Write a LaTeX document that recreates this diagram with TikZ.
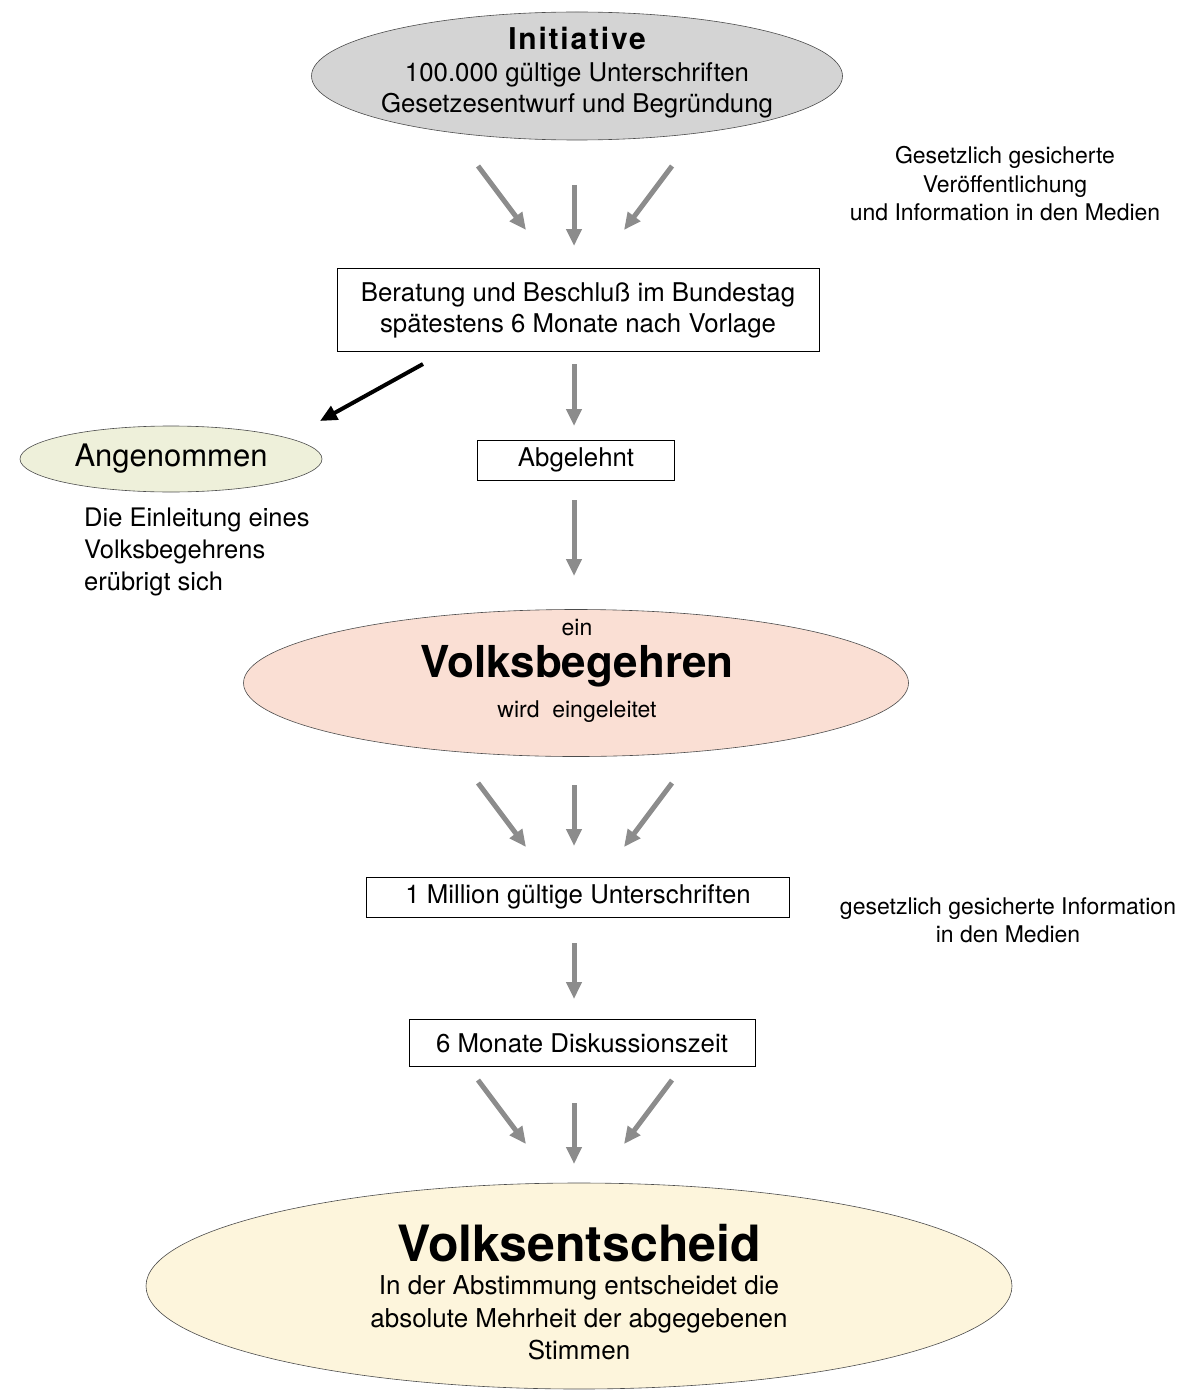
\documentclass[tikz,border=0pt]{standalone}
\usepackage{fontspec}
\setmainfont{TeX Gyre Heros}
\usetikzlibrary{arrows.meta,shapes.geometric}
\definecolor{initgray}{HTML}{D4D4D4}
\definecolor{angfill}{HTML}{EEF0DA}
\definecolor{vbfill}{HTML}{FADFD4}
\definecolor{vefill}{HTML}{FDF5DC}
\definecolor{arrgray}{HTML}{8C8C8C}
\begin{document}
\begin{tikzpicture}[x=1pt,y=-1pt,
  oval/.style={draw=black!70,line width=0.6pt,ellipse,inner sep=0pt},
  boxnode/.style={draw=black,line width=1pt,minimum height=40pt,inner sep=0pt,font=\fontsize{25.8}{31}\selectfont,align=center},
  garrow/.style={draw=arrgray,line width=5pt,-{Triangle[length=17pt,width=15pt]}},
  barrow/.style={draw=black,line width=4pt,-{Triangle[length=17pt,width=15pt]}},
  note/.style={font=\fontsize{23}{28.5}\selectfont,align=center},
  body/.style={font=\fontsize{25.8}{31}\selectfont,align=center}]
\useasboundingbox (0,0) rectangle (1185,1391);
% Initiative
\node[oval,fill=initgray,minimum width=531pt,minimum height=128pt] (init) at (577,76) {};
\node[font=\fontsize{30}{34}\selectfont\addfontfeature{LetterSpace=6}\bfseries] (initt) at (577,38) {Initiative};
\node[body] (initb) at (577,90) {100.000 gültige Unterschriften\\Gesetzesentwurf und Begründung};
% arrows 1
\coordinate (a1s) at (478,166); \coordinate (a1e) at (526,230);
\coordinate (b1s) at (574,185); \coordinate (b1e) at (574,246);
\coordinate (c1s) at (672,166); \coordinate (c1e) at (624,230);
\draw[garrow] (a1s) -- (a1e);
\draw[garrow] (b1s) -- (b1e);
\draw[garrow] (c1s) -- (c1e);
\node[note] (med1) at (1005,184) {Gesetzlich gesicherte\\Veröffentlichung\\und Information in den Medien};
% Beratung
\node[boxnode,minimum width=482pt,minimum height=83pt] (ber) at (578,310) {Beratung und Beschluß im Bundestag\\spätestens 6 Monate nach Vorlage};
\coordinate (bs) at (423,364); \coordinate (be) at (320,421);
\draw[barrow] (bs) -- (be);
\coordinate (m1s) at (574,364); \coordinate (m1e) at (574,426);
\draw[garrow] (m1s) -- (m1e);
% Angenommen
\node[oval,fill=angfill,minimum width=302pt,minimum height=66pt,font=\fontsize{31}{34}\selectfont] (ang) at (171,459) {Angenommen};
\node[body,align=left,anchor=north west,inner sep=0pt,font=\fontsize{25.5}{32}\selectfont] (ein) at (84,508) {Die Einleitung eines\\Volksbegehrens\\erübrigt sich};
% Abgelehnt
\node[boxnode,minimum width=197pt] (abg) at (576,460) {Abgelehnt};
\coordinate (m2s) at (574,500); \coordinate (m2e) at (574,576);
\draw[garrow] (m2s) -- (m2e);
% Volksbegehren
\node[oval,fill=vbfill,minimum width=665pt,minimum height=147pt] (vb) at (576,683) {};
\node[font=\fontsize{23}{26}\selectfont] (vbein) at (577,628) {ein};
\node[font=\fontsize{44}{48}\bfseries\selectfont] (vbt) at (577,666) {Volksbegehren};
\node[font=\fontsize{23}{26}\selectfont] (vbw) at (577,712) {wird\ \ eingeleitet};
% arrows 2
\coordinate (a2s) at (478,783); \coordinate (a2e) at (526,847);
\coordinate (b2s) at (574,785); \coordinate (b2e) at (574,846);
\coordinate (c2s) at (672,783); \coordinate (c2e) at (624,847);
\draw[garrow] (a2s) -- (a2e);
\draw[garrow] (b2s) -- (b2e);
\draw[garrow] (c2s) -- (c2e);
% Million
\node[boxnode,minimum width=423pt] (mil) at (578,897) {1 Million gültige Unterschriften};
\node[note] (med2) at (1008,920) {gesetzlich gesicherte Information\\in den Medien};
\coordinate (m3s) at (574,943); \coordinate (m3e) at (574,999);
\draw[garrow] (m3s) -- (m3e);
% Diskussion
\node[boxnode,minimum width=346pt,minimum height=47pt] (dis) at (582,1043) {6 Monate Diskussionszeit};
% arrows 3
\coordinate (a3s) at (478,1080); \coordinate (a3e) at (526,1144);
\coordinate (b3s) at (574,1103); \coordinate (b3e) at (574,1164);
\coordinate (c3s) at (672,1080); \coordinate (c3e) at (624,1144);
\draw[garrow] (a3s) -- (a3e);
\draw[garrow] (b3s) -- (b3e);
\draw[garrow] (c3s) -- (c3e);
% Volksentscheid
\node[oval,fill=vefill,minimum width=866pt,minimum height=206pt] (ve) at (579,1286) {};
\node[font=\fontsize{50}{54}\bfseries\selectfont] (vet) at (579,1243) {Volksentscheid};
\node[body,font=\fontsize{26}{32.5}\selectfont] (veb) at (579,1318) {In der Abstimmung entscheidet die\\absolute Mehrheit der abgegebenen\\Stimmen};
\end{tikzpicture}
\end{document}
